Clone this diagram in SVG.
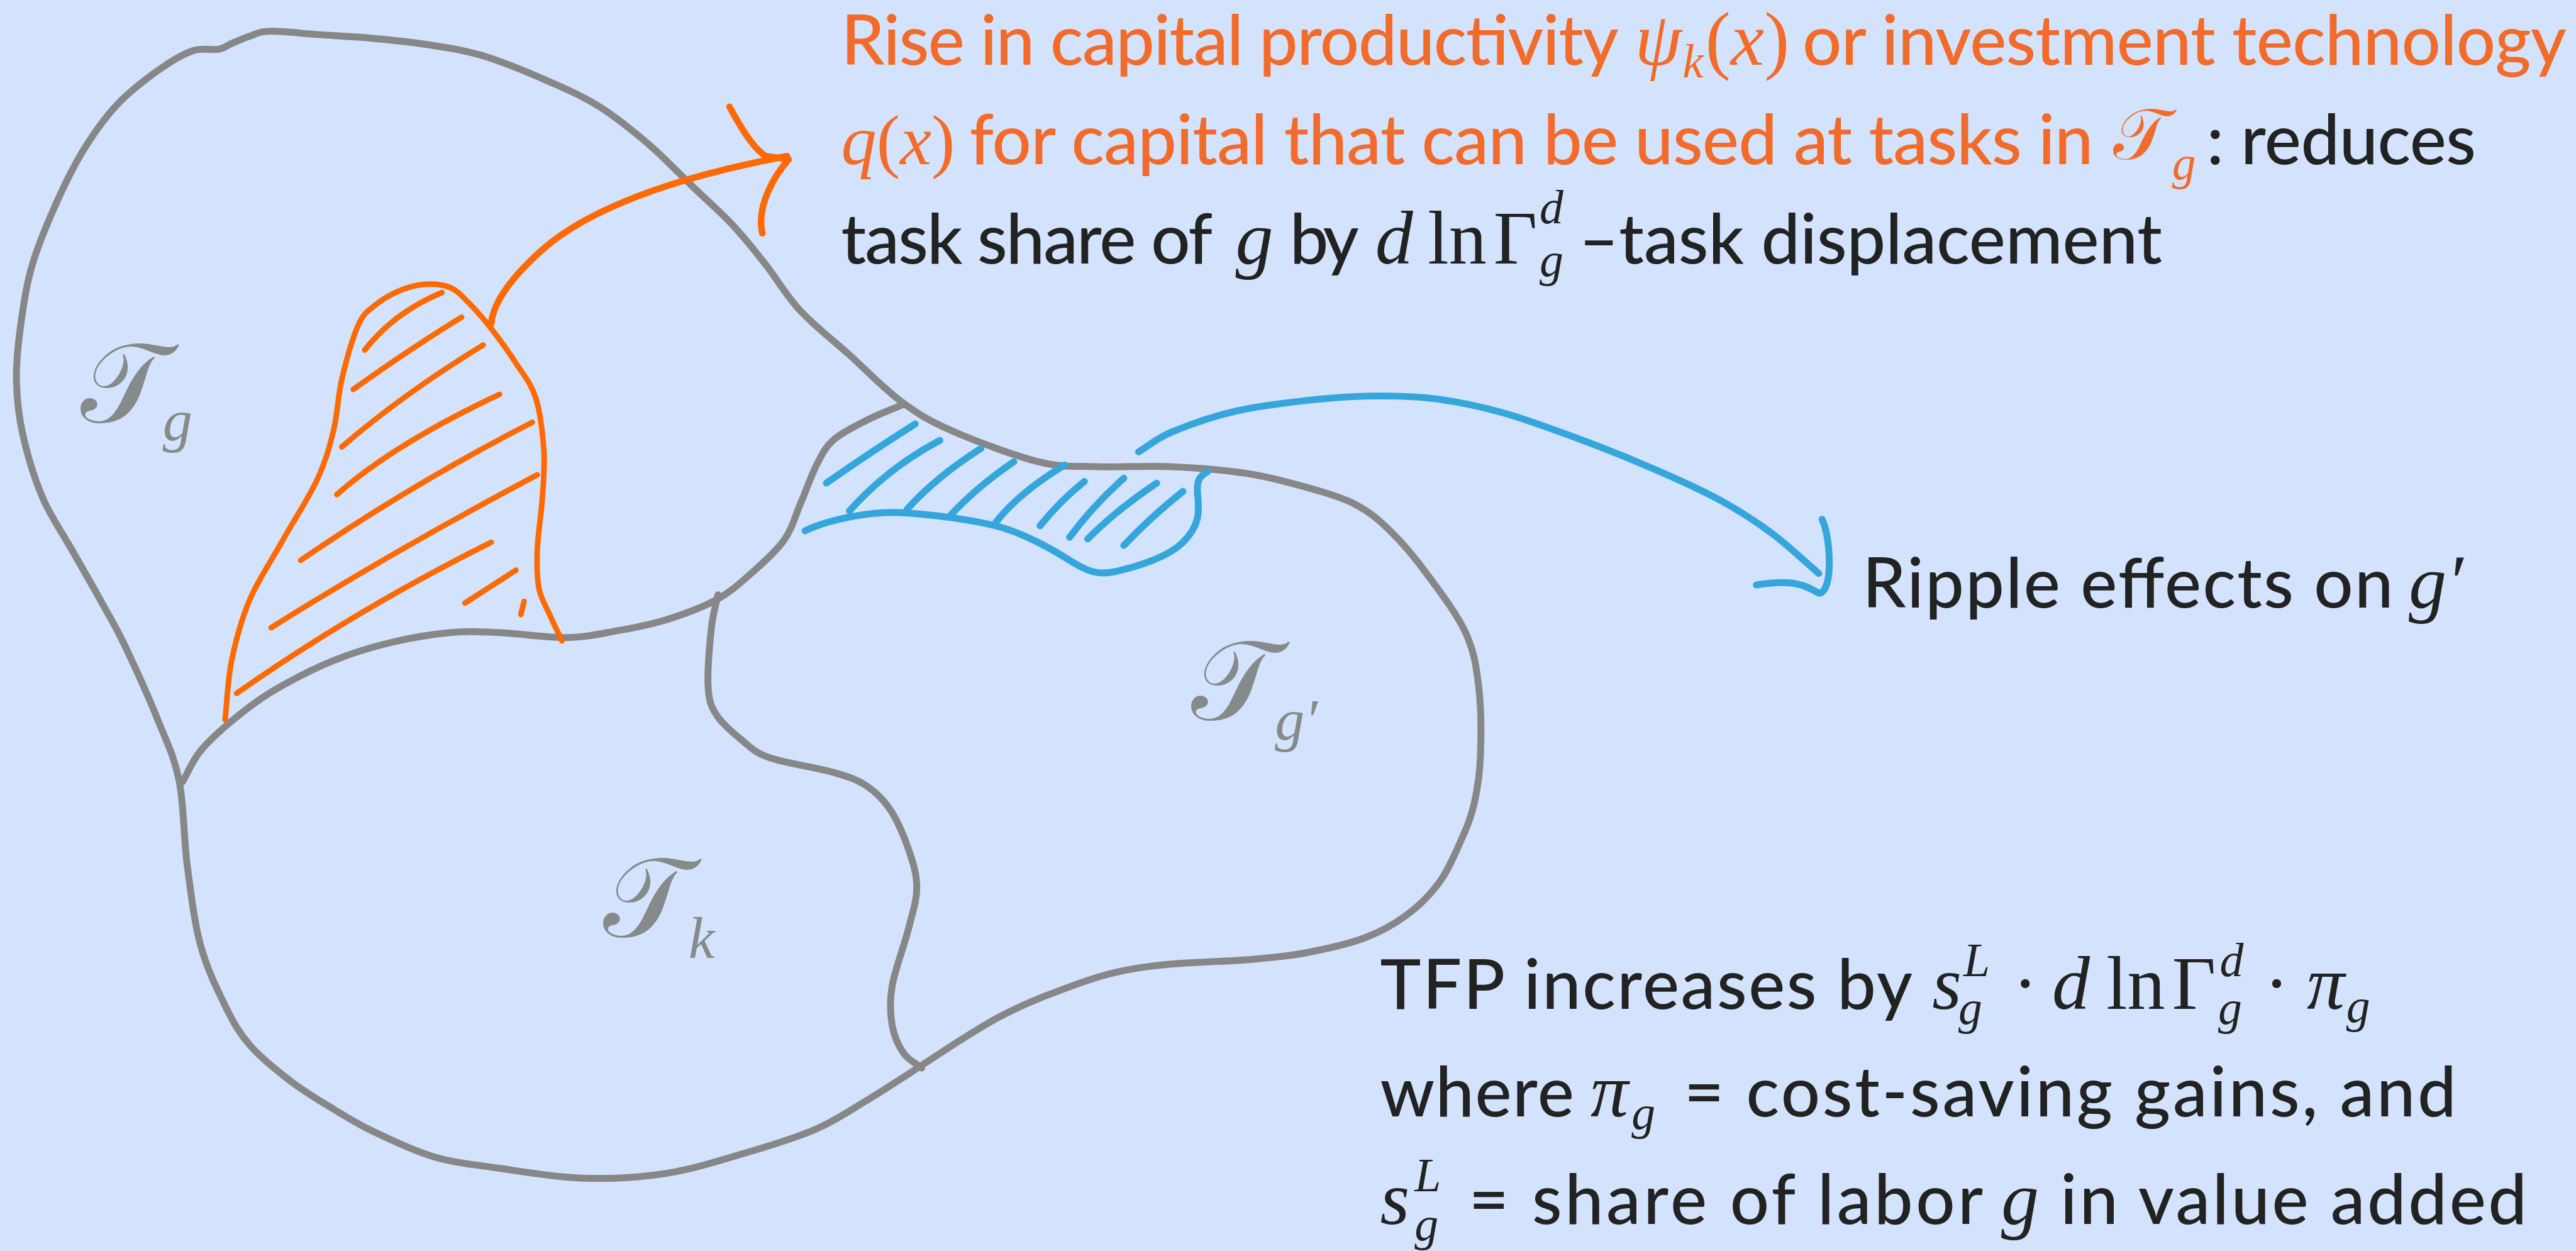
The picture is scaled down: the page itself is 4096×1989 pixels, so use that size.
<svg xmlns="http://www.w3.org/2000/svg" width="4096" height="1989" viewBox="0 0 4096 1989">
<style>
.gr{fill:none;stroke:#878787;stroke-width:4.2;stroke-linecap:round;stroke-linejoin:round}
.or{fill:none;stroke:#FF6A00;stroke-width:3.4;stroke-linecap:round;stroke-linejoin:round}
.bl{fill:none;stroke:#35A6DC;stroke-width:4.2;stroke-linecap:round;stroke-linejoin:round}
.tx{font-family:Lato,"Open Sans","Liberation Sans",sans-serif;font-size:42px;font-weight:500}
.m{font-family:"Liberation Serif","DejaVu Serif",serif;font-style:italic;font-weight:400;font-size:46px}
.u{font-family:"Liberation Serif","DejaVu Serif",serif;font-style:normal;font-weight:400;font-size:46px}
.s{font-size:29px}
.ls{font-size:36px}
.cal{font-family:"DejaVu Serif","DejaVu Sans","Noto Sans",serif;font-style:normal;font-weight:400}
.ot{fill:#F26B2B}
.bt{fill:#222222}
.lb{fill:#878A8A}
</style>
<rect width="4096" height="1989" fill="#D4E3FD"/>
<g transform="scale(2.6125)">
<g id="regions">
<path class="gr" d="M109,475 C106,460.2 101.5,451.7 96,438 S81.8,405.2 76,393 S66.3,374.7 61,365 S49.8,345.3 44,335 S31,314.7 26,303 S16.7,277 14,265 S10.2,242.7 10,231 S11.3,206.8 13,195 S16.3,172.2 20,160 S29.8,133.5 35,122 S45,100.7 51,91 S63.5,72 71,64 S88.3,48.5 96,43 S110.8,33.2 117,31 S128.8,30.8 133,30 S138.8,27.3 142,26 S148.3,23.2 152,22 S157.2,19.2 164,19 S183.2,20.3 193,21 S212,22 223,23 S247.2,25.2 259,27 S281.3,30.2 294,34 S323.2,44.8 335,50 S355,58.7 365,65 S385.7,80 395,88 S412.5,104.8 421,113 S438.5,129 446,137 S459.2,152.3 466,161 S478.5,179.8 487,189 S506.8,206.8 517,216 S537.7,236.3 548,244 S565,255.8 579,262 S617.2,277.3 632,281 S654.5,283.5 668,284 S698,283.3 713,284 S744.7,286 758,288 S781.8,292.8 793,296 S816,302.3 825,307 S839.7,316.8 847,324 S861.5,339.8 869,350 S886.8,373.7 892,385 S898.5,405.3 900,418 S901.5,449 901,461 S899,481.5 897,490 S892.5,504.2 889,512 S881.5,529.5 876,537 S863.7,551.3 856,557 S840.3,567.2 830,571 S805.7,577.8 794,580 S774,582.8 760,584 S724.3,585.5 710,587 S686.7,589.7 674,593 S645,602.7 634,607 S616.5,614.5 608,619 S591,629 583,634 S569.3,643 560,649 S537.5,663.7 527,670 S508.8,681.8 497,687 S471.2,696.5 456,701 S422.8,711.3 406,714 S372,717.5 355,717 S319.2,713.2 304,711 S276.7,707.7 264,704 S238.2,693.8 228,689 S211.5,680.2 203,675 S185.5,664.5 177,658 S158.7,643.7 152,636 S142,622.2 137,612 S125.8,589.2 122,575 S116.2,543.7 114,527 S112,489.8 109,475 Z"/>
<path class="gr" d="M111,476 C114.7,469.7 116.8,463.3 122,457 S134.5,444.2 142,438 S156.8,426 167,420 S191.2,406.8 203,402 S226.2,393.8 238,391 S263,386 274,385 S292.2,384.5 304,385 S333.2,388.2 345,388 S364.8,385.8 375,384 S395.8,380.2 406,377 S427.7,369.5 436,365 S449.2,356 456,350 S471.8,336.2 477,329 S483.7,314.7 487,307 S493.7,289.5 497,283 S502,272.5 507,268 S519.8,259.7 527,256 S542.3,249.3 550,246"/>
<path class="gr" d="M437,362 C435.7,368.7 434,372.7 433,382 S430.5,409.2 431,418 S432.7,429.7 436,435 S445.7,445.7 451,450 S458.7,457.7 468,461 S497.2,467.2 507,470 S521.2,474.2 527,478 S537.7,486.5 542,493 S550.3,509.2 553,517 S558,532 558,540 S555.5,555 553,565 S544.7,590.2 543,600 S541.8,617.2 543,624 S547,636.7 550,641 S557.3,647 561,650"/>
</g>
<g id="label-Tg" class="lb">
<text class="cal" x="49" y="257" font-size="68">𝒯</text>
<text class="m ls" x="99" y="268">g</text>
</g>
<g id="label-Tk" class="lb">
<text class="cal" x="367" y="570" font-size="68">𝒯</text>
<text class="m ls" x="419" y="583">k</text>
</g>
<g id="label-Tgp" class="lb">
<text class="cal" x="725" y="438" font-size="68">𝒯</text>
<text class="m ls" x="776" y="450">g′</text>
</g>
<g id="orange-area">
<path class="or" d="M137,438 C138.3,426 138.5,414.2 141,402 S146.8,377.2 152,365 S165.2,341.2 172,329 S187.8,303.2 193,292 S200.5,272.2 203,262 S205.5,241.7 208,231 S214.7,205.5 218,198 S223.8,189.5 228,186 S237.8,179.2 243,177 S253.8,173.3 259,173 S269.7,173.2 274,175 S280.8,179.8 285,184 S294.2,193.8 299,200 S309.5,214 314,221 S323.2,233.2 326,242 S330.3,263.7 331,274 S330.7,293.8 330,304 S327.3,326 327,335 S326.7,351.3 328,358 S332.7,369.7 335,375 S339.7,385 342,390"/>
<path class="or" d="M222,213 Q240,190 269,178"/>
<path class="or" d="M215,237 Q250,212 281,193"/>
<path class="or" d="M208,272 Q245,240 294,210"/>
<path class="or" d="M205,301 Q240,270 304,240"/>
<path class="or" d="M183,341 Q250,295 324,257"/>
<path class="or" d="M165,382 Q240,335 327,289"/>
<path class="or" d="M144,422 Q215,372 299,330"/>
<path class="or" d="M283,367 L314,347"/>
<path class="or" d="M317,374 L319,366"/>
</g>
<g id="blue-area">
<path class="bl" d="M490,323 C505,316 530,311 548,312 S590,316 606,320 S640,334 651,341 S668,350 678,348 S710,340 720,330 S730,312 729,302 S730,290 735,287"/>
<path class="bl" d="M503,294 Q527,277 557,258"/>
<path class="bl" d="M517,311 Q540,285 572,268"/>
<path class="bl" d="M552,310 Q570,290 597,273"/>
<path class="bl" d="M579,313 Q595,296 617,281"/>
<path class="bl" d="M606,318 Q620,300 648,283"/>
<path class="bl" d="M633,320 Q645,305 660,293"/>
<path class="bl" d="M651,327 Q665,308 684,291"/>
<path class="bl" d="M662,328 Q680,310 704,294"/>
<path class="bl" d="M684,332 Q700,315 720,299"/>
</g>
<g id="connectors">
<path class="or" style="stroke-width:4" d="M299,197 C300,185 310,170 330,152 C355,130 400,110 479,95"/>
<path class="or" style="stroke-width:4" d="M444,65 C450,76 458,90 466,95 L480,97 C472,106 460,125 464,142"/>
<path class="bl" d="M693,275 C699.7,271 703,267.2 713,263 S738.2,253.3 753,250 S787.5,244.5 802,243 S827.7,241 840,241 S863.7,241.3 876,243 S900.3,247.2 914,251 S942.3,260.2 958,266 S993,279.5 1008,286 S1036.2,298.5 1048,305 S1069.2,317.7 1079,325 S1097.7,341 1107,349"/>
<path class="bl" d="M1109,316 C1113,325 1114,340 1113,350 C1112,357 1110,361 1107,361 C1100,357 1093,352 1069,356"/>
</g>
<g id="text-top">
<text class="tx ot" x="512" y="39.5" textLength="473">Rise in capital productivity</text>
<text class="m ot" x="995" y="39.5">ψ</text>
<text class="m s ot" x="1024" y="47">k</text>
<text class="u ot" x="1038" y="39.5">(<tspan class="m">x</tspan>)</text>
<text class="tx ot" x="1097" y="39.5" textLength="465">or investment technology</text>
<text class="u ot" x="512" y="99.8" style="font-size:43px"><tspan class="m" style="font-size:43px">q</tspan>(<tspan class="m" style="font-size:43px">x</tspan>)</text>
<text class="tx ot" x="590" y="99.8" textLength="684">for capital that can be used at tasks in</text>
<text class="cal ot" x="1286" y="97" font-size="44">𝒯</text>
<text class="m s ot" x="1322" y="109">g</text>
<text class="tx bt" x="1343" y="99.8" textLength="164">: reduces</text>
<text class="tx bt" x="512" y="160.3" textLength="226">task share of</text>
<text class="m bt" x="752" y="160.3">g</text>
<text class="tx bt" x="785" y="160.3" textLength="42">by</text>
<text class="m bt" x="837" y="160.3">d</text>
<text class="u bt" x="869" y="160.3">ln</text>
<text class="u bt" x="909" y="160.3">Γ</text>
<text class="m s bt" x="937" y="136">d</text>
<text class="m s bt" x="937" y="168">g</text>
<text class="tx bt" x="961" y="160.3" textLength="355">–task displacement</text>
</g>
<g id="text-ripple">
<text class="tx bt" x="1133.6" y="369.8" textLength="323">Ripple effects on</text>
<text class="m bt" x="1466" y="369.8">g′</text>
</g>
<g id="text-tfp">
<text class="tx bt" x="840" y="614" textLength="324">TFP increases by</text>
<text class="m bt" x="1176" y="614">s</text>
<text class="m s bt" x="1195" y="594">L</text>
<text class="m s bt" x="1192" y="623">g</text>
<text class="u bt" x="1225" y="614">·</text>
<text class="m bt" x="1249" y="614">d</text>
<text class="u bt" x="1282" y="614">ln</text>
<text class="u bt" x="1322" y="614">Γ</text>
<text class="m s bt" x="1351" y="594">d</text>
<text class="m s bt" x="1350" y="623">g</text>
<text class="u bt" x="1378" y="614">·</text>
<text class="m bt" x="1404" y="614">π</text>
<text class="m s bt" x="1428" y="622">g</text>
<text class="tx bt" x="840" y="679.5" textLength="118">where</text>
<text class="m bt" x="968" y="679.5">π</text>
<text class="m s bt" x="993" y="687">g</text>
<text class="tx bt" x="1025" y="679.5" textLength="470">= cost-saving gains, and</text>
<text class="m bt" x="840" y="745">s</text>
<text class="m s bt" x="861" y="725">L</text>
<text class="m s bt" x="861" y="755">g</text>
<text class="tx bt" x="894" y="745" textLength="313">= share of labor</text>
<text class="m bt" x="1218" y="745">g</text>
<text class="tx bt" x="1254" y="745" textLength="284">in value added</text>
</g>
</g>
</svg>
